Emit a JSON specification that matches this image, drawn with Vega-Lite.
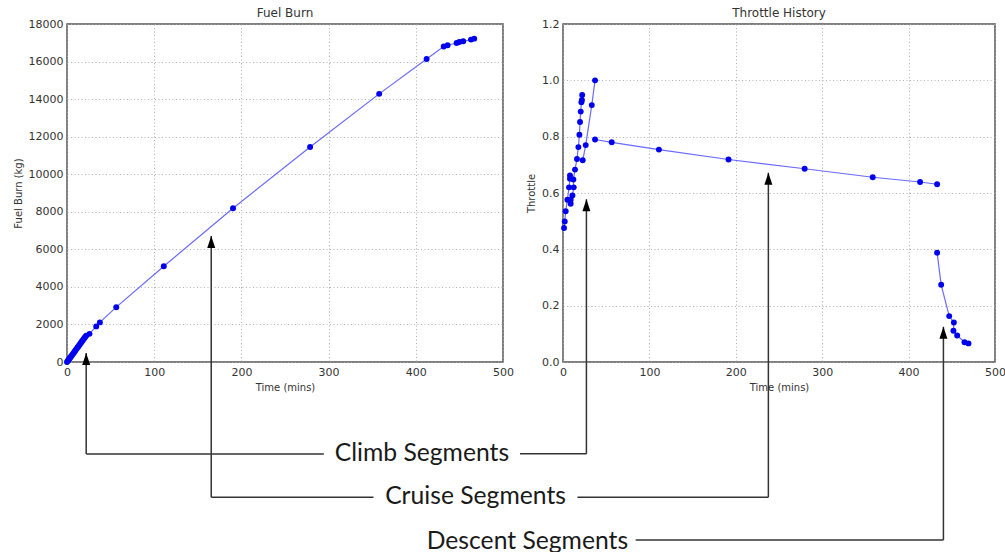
{
  "$schema": "https://vega.github.io/schema/vega-lite/v6.json",
  "padding": {"left": 12, "top": 6, "right": 0, "bottom": 0},
  "spacing": 60,
  "bounds": "flush",
  "config": {
    "view": {"stroke": "#555", "strokeWidth": 1.5},
    "axis": {"domain": false, "ticks": false, "labelFont": "DejaVu Sans", "labelFontSize": 11, "labelColor": "#333", "titleFont": "DejaVu Sans", "titleFontSize": 10, "titleFontWeight": "normal", "titleColor": "#333", "gridColor": "#a8a8a8", "gridDash": [1, 2.5], "gridWidth": 0.9, "labelPadding": 4, "titlePadding": 5, "labelFlush": false, "labelOverlap": false},
    "title": {"font": "DejaVu Sans", "fontSize": 12, "fontWeight": "normal", "color": "#333", "offset": -2, "frame": "group"}
  },
  "datasets": {
    "fuel": [
      {"x": 0, "y": 0}, {"x": 1, "y": 70}, {"x": 2, "y": 130}, {"x": 3, "y": 190}, {"x": 4, "y": 250}, {"x": 5, "y": 320}, {"x": 6, "y": 380}, {"x": 7, "y": 440}, {"x": 8, "y": 510}, {"x": 9, "y": 570}, {"x": 10, "y": 640}, {"x": 11, "y": 700}, {"x": 12, "y": 770}, {"x": 13, "y": 830}, {"x": 14, "y": 900}, {"x": 15, "y": 960}, {"x": 16, "y": 1030}, {"x": 17, "y": 1090}, {"x": 18, "y": 1150}, {"x": 19, "y": 1220}, {"x": 20, "y": 1280}, {"x": 21, "y": 1340}, {"x": 22, "y": 1400},
      {"x": 25.8, "y": 1500}, {"x": 33.5, "y": 1895}, {"x": 37.7, "y": 2108}, {"x": 56.5, "y": 2920}, {"x": 111, "y": 5100}, {"x": 190.4, "y": 8190}, {"x": 278.8, "y": 11450}, {"x": 358, "y": 14280}, {"x": 412.4, "y": 16140}, {"x": 432, "y": 16800}, {"x": 436.5, "y": 16870}, {"x": 446.8, "y": 16990}, {"x": 449.9, "y": 17045}, {"x": 454.4, "y": 17080}, {"x": 463.3, "y": 17170}, {"x": 467, "y": 17220}
    ],
    "throttle": [
      {"seg": "c1", "i": 1, "x": 1.2, "y": 0.476}, {"seg": "c1", "i": 2, "x": 2.0, "y": 0.499}, {"seg": "c1", "i": 3, "x": 3.1, "y": 0.535}, {"seg": "c1", "i": 4, "x": 5.1, "y": 0.576}, {"seg": "c1", "i": 5, "x": 7.0, "y": 0.62}, {"seg": "c1", "i": 6, "x": 8.1, "y": 0.651}, {"seg": "c1", "i": 7, "x": 8.1, "y": 0.662},
      {"seg": "c2", "i": 8, "x": 8.9, "y": 0.562}, {"seg": "c2", "i": 9, "x": 8.9, "y": 0.576}, {"seg": "c2", "i": 10, "x": 10.9, "y": 0.591}, {"seg": "c2", "i": 11, "x": 12.4, "y": 0.62}, {"seg": "c2", "i": 12, "x": 12.0, "y": 0.648}, {"seg": "c2", "i": 13, "x": 13.9, "y": 0.683}, {"seg": "c2", "i": 14, "x": 16.2, "y": 0.721}, {"seg": "c2", "i": 15, "x": 17.8, "y": 0.763}, {"seg": "c2", "i": 16, "x": 19.0, "y": 0.807}, {"seg": "c2", "i": 17, "x": 19.7, "y": 0.852}, {"seg": "c2", "i": 18, "x": 20.5, "y": 0.889}, {"seg": "c2", "i": 19, "x": 21.3, "y": 0.922}, {"seg": "c2", "i": 20, "x": 21.9, "y": 0.93}, {"seg": "c2", "i": 21, "x": 22.2, "y": 0.948},
      {"seg": "c3", "i": 22, "x": 22.8, "y": 0.716}, {"seg": "c3", "i": 23, "x": 26.3, "y": 0.77}, {"seg": "c3", "i": 24, "x": 33.3, "y": 0.912}, {"seg": "c3", "i": 25, "x": 37.1, "y": 1.0},
      {"seg": "cr", "i": 26, "x": 37.1, "y": 0.79}, {"seg": "cr", "i": 27, "x": 56.4, "y": 0.78}, {"seg": "cr", "i": 28, "x": 111, "y": 0.754}, {"seg": "cr", "i": 29, "x": 191.6, "y": 0.719}, {"seg": "cr", "i": 30, "x": 279.7, "y": 0.686}, {"seg": "cr", "i": 31, "x": 358.5, "y": 0.656}, {"seg": "cr", "i": 32, "x": 413.3, "y": 0.639}, {"seg": "cr", "i": 33, "x": 433, "y": 0.631},
      {"seg": "d", "i": 34, "x": 433, "y": 0.388}, {"seg": "d", "i": 35, "x": 437.7, "y": 0.274}, {"seg": "d", "i": 36, "x": 447, "y": 0.163}, {"seg": "d", "i": 37, "x": 452.4, "y": 0.14}, {"seg": "d", "i": 38, "x": 451.9, "y": 0.111}, {"seg": "d", "i": 39, "x": 456.2, "y": 0.094}, {"seg": "d", "i": 40, "x": 464.7, "y": 0.07}, {"seg": "d", "i": 41, "x": 469.3, "y": 0.066}
    ],
    "rulesL": [
      {"x": 22, "y": 479, "x2": 22, "y2": -4900},
      {"x": 22, "y": -4900, "x2": 294.5, "y2": -4900},
      {"x": 165.4, "y": 6710, "x2": 165.4, "y2": -7200},
      {"x": 165.4, "y": -7200, "x2": 351.5, "y2": -7200}
    ],
    "headsL": [{"x": 22, "y": 479}, {"x": 165.4, "y": 6710}],
    "textL": [{"label": "Climb Segments", "x": 407, "y": -4880}, {"label": "Cruise Segments", "x": 468.5, "y": -7190}],
    "rulesR": [
      {"x": -49.8, "y": -0.326, "x2": 27.1, "y2": -0.326},
      {"x": 27.1, "y": -0.326, "x2": 27.1, "y2": 0.578},
      {"x": 16.7, "y": -0.48, "x2": 237.7, "y2": -0.48},
      {"x": 237.7, "y": -0.48, "x2": 237.7, "y2": 0.672},
      {"x": 84.1, "y": -0.632, "x2": 440.3, "y2": -0.632},
      {"x": 440.3, "y": -0.632, "x2": 440.3, "y2": 0.125}
    ],
    "headsR": [{"x": 27.1, "y": 0.578}, {"x": 237.7, "y": 0.672}, {"x": 440.3, "y": 0.125}],
    "textR": [{"label": "Descent Segments", "x": -41.2, "y": -0.638}]
  },
  "hconcat": [
    {
      "width": 436,
      "height": 338,
      "title": {"text": "Fuel Burn", "frame": "group", "offset": -2},
      "encoding": {
        "x": {"field": "x", "type": "quantitative", "scale": {"domain": [0, 500]}, "axis": {"title": "Time (mins)", "values": [0, 100, 200, 300, 400, 500]}},
        "y": {"field": "y", "type": "quantitative", "scale": {"domain": [0, 18000]}, "axis": {"title": "Fuel Burn (kg)", "format": "d", "values": [0, 2000, 4000, 6000, 8000, 10000, 12000, 14000, 16000, 18000]}}
      },
      "layer": [
        {
          "data": {"name": "fuel"},
          "mark": {"type": "line", "color": "#6a6aff", "strokeWidth": 1.2}
        },
        {
          "data": {"name": "fuel"},
          "mark": {"type": "circle", "size": 35, "color": "#0000ee", "opacity": 1}
        },
        {
          "data": {"name": "rulesL"},
          "mark": {"type": "rule", "color": "#333", "strokeWidth": 1.5},
          "encoding": {
            "x2": {"field": "x2"},
            "y2": {"field": "y2"}
          }
        },
        {
          "data": {"name": "headsL"},
          "mark": {"type": "point", "shape": "M0,0L0.4,1.2L-0.4,1.2Z", "size": 400, "filled": true, "color": "#000", "opacity": 1}
        },
        {
          "data": {"name": "textL"},
          "mark": {"type": "text", "font": "Lato", "fontSize": 24.7, "color": "#1a1a1a", "align": "center", "baseline": "middle"},
          "encoding": {
            "text": {"field": "label"}
          }
        }
      ]
    },
    {
      "width": 432,
      "height": 338,
      "title": {"text": "Throttle History", "frame": "group", "offset": -2},
      "encoding": {
        "x": {"field": "x", "type": "quantitative", "scale": {"domain": [0, 500]}, "axis": {"title": "Time (mins)", "values": [0, 100, 200, 300, 400, 500]}},
        "y": {"field": "y", "type": "quantitative", "scale": {"domain": [0, 1.2]}, "axis": {"title": "Throttle", "format": ".1f", "values": [0, 0.2, 0.4, 0.6, 0.8, 1.0, 1.2]}}
      },
      "layer": [
        {
          "data": {"name": "throttle"},
          "mark": {"type": "line", "color": "#6a6aff", "strokeWidth": 1.2},
          "encoding": {
            "detail": {"field": "seg"},
            "order": {"field": "i"}
          }
        },
        {
          "data": {"name": "throttle"},
          "mark": {"type": "circle", "size": 35, "color": "#0000ee", "opacity": 1}
        },
        {
          "data": {"name": "rulesR"},
          "mark": {"type": "rule", "color": "#333", "strokeWidth": 1.5},
          "encoding": {
            "x2": {"field": "x2"},
            "y2": {"field": "y2"}
          }
        },
        {
          "data": {"name": "headsR"},
          "mark": {"type": "point", "shape": "M0,0L0.4,1.2L-0.4,1.2Z", "size": 400, "filled": true, "color": "#000", "opacity": 1}
        },
        {
          "data": {"name": "textR"},
          "mark": {"type": "text", "font": "Lato", "fontSize": 24.7, "color": "#1a1a1a", "align": "center", "baseline": "middle"},
          "encoding": {
            "text": {"field": "label"}
          }
        }
      ]
    }
  ]
}
